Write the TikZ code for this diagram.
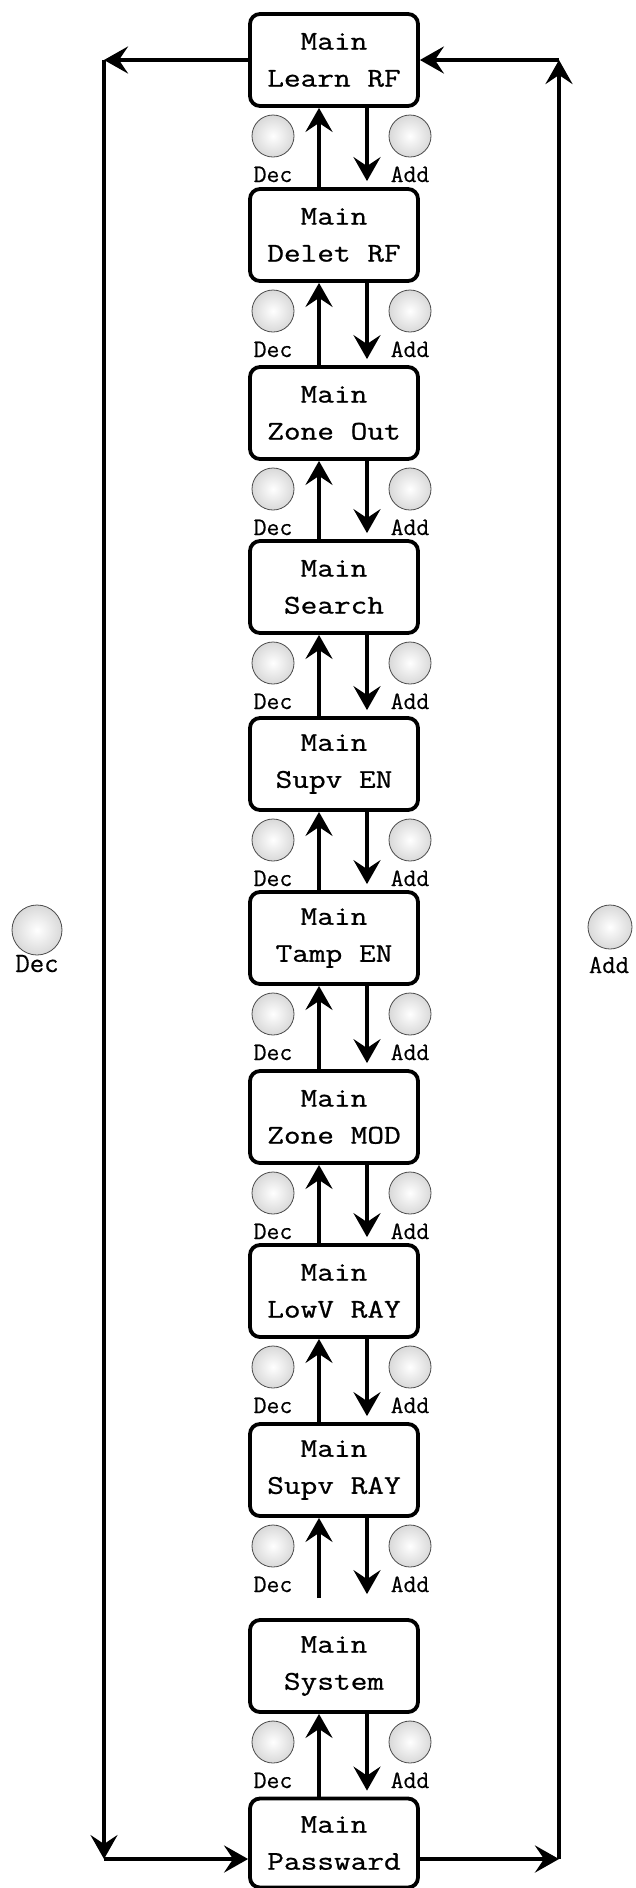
\documentclass[tikz,border=0pt]{standalone}
\usepackage{fontspec}
\newfontfamily\boxfont[FakeStretch=1.2,FakeBold=0.8]{Latin Modern Mono}
\newfontfamily\lblfont[FakeBold=0.4]{Latin Modern Mono}
\usetikzlibrary{arrows.meta,calc}
\tikzset{
  boxst/.style={draw, line width=3.8, rounded corners=10, minimum width=168, minimum height=92,
    inner sep=0, align=center, font=\boxfont\fontsize{27}{37}\selectfont},
  arr/.style={line width=4.6, -{Stealth[length=24,width=27,inset=9]}},
  btn/.style={circle, minimum size=42, inner sep=0, draw=gray!60!black, line width=0.8,
    inner color=white, outer color=gray!30},
  lbl/.style={font=\lblfont\fontsize{25}{25}\selectfont, inner sep=0, anchor=base}
}
\begin{document}
\begin{tikzpicture}[x=1pt,y=-1pt]
\useasboundingbox (0,0) rectangle (636,1888);
\fill[white] (0,0) rectangle (636,1888);
\coordinate (ux) at (319,0);
\coordinate (dx) at (367,0);
\coordinate (lx) at (104,0);
\coordinate (rx) at (559,0);
\node[boxst] (b1) at (334,60) {Main\\Learn RF};
\node[boxst] (b2) at (334,235) {Main\\Delet RF};
\node[boxst] (b3) at (334,413) {Main\\Zone Out};
\node[boxst] (b4) at (334,587) {Main\\Search};
\node[boxst] (b5) at (334,764) {Main\\Supv EN};
\node[boxst] (b6) at (334,938) {Main\\Tamp EN};
\node[boxst] (b7) at (334,1117) {Main\\Zone MOD};
\node[boxst] (b8) at (334,1291) {Main\\LowV RAY};
\node[boxst] (b9) at (334,1470) {Main\\Supv RAY};
\node[boxst] (b10) at (334,1666) {Main\\System};
\node[boxst, minimum height=89] (b11) at (334,1843) {Main\\Passward};
\foreach \i/\j in {1/2,2/3,3/4,4/5,5/6,6/7,7/8,8/9,10/11} {
  \draw[arr] (b\j.north -| ux) -- (b\i.south -| ux);
  \draw[arr, shorten >=6] (b\i.south -| dx) -- (b\j.north -| dx);
}
\draw[arr, shorten <=20] (b10.north -| ux) -- (b9.south -| ux);
\draw[arr, shorten >=24] (b9.south -| dx) -- (b10.north -| dx);
\foreach \i/\y in {1/106,2/281,3/459,4/633,5/810,6/984,7/1163,8/1337,9/1516,10/1712} {
  \node[btn] (dec\i) at (273,{\y+30}) {};
  \node[lbl] (dect\i) at (273,{\y+76}) {Dec};
  \node[btn] (add\i) at (410,{\y+30}) {};
  \node[lbl] (addt\i) at (410,{\y+76}) {Add};
}
% side loops
\coordinate (lt) at (b1.west -| lx);
\coordinate (lbw) at ($(b11.west)+(0,16)$);
\coordinate (lb) at (lbw -| lx);
\draw[arr] (b1.west) -- (lt);
\draw[arr] (lt) -- (lb);
\draw[arr] (lb) -- (lbw);
\coordinate (rt) at (b1.east -| rx);
\coordinate (rbe) at ($(b11.east)+(0,16)$);
\coordinate (rb) at (rbe -| rx);
\draw[arr] (rbe) -- (rb);
\draw[arr] (rb) -- (rt);
\draw[arr] (rt) -- (b1.east);
\node[btn, minimum size=50] (sdec) at (37,930) {};
\node[lbl, font=\lblfont\fontsize{28}{28}\selectfont] (sdect) at (37,972) {Dec};
\node[btn, minimum size=44] (sadd) at (610,927) {};
\node[lbl, font=\lblfont\fontsize{26}{26}\selectfont] (saddt) at (609,973) {Add};
\end{tikzpicture}
\end{document}
